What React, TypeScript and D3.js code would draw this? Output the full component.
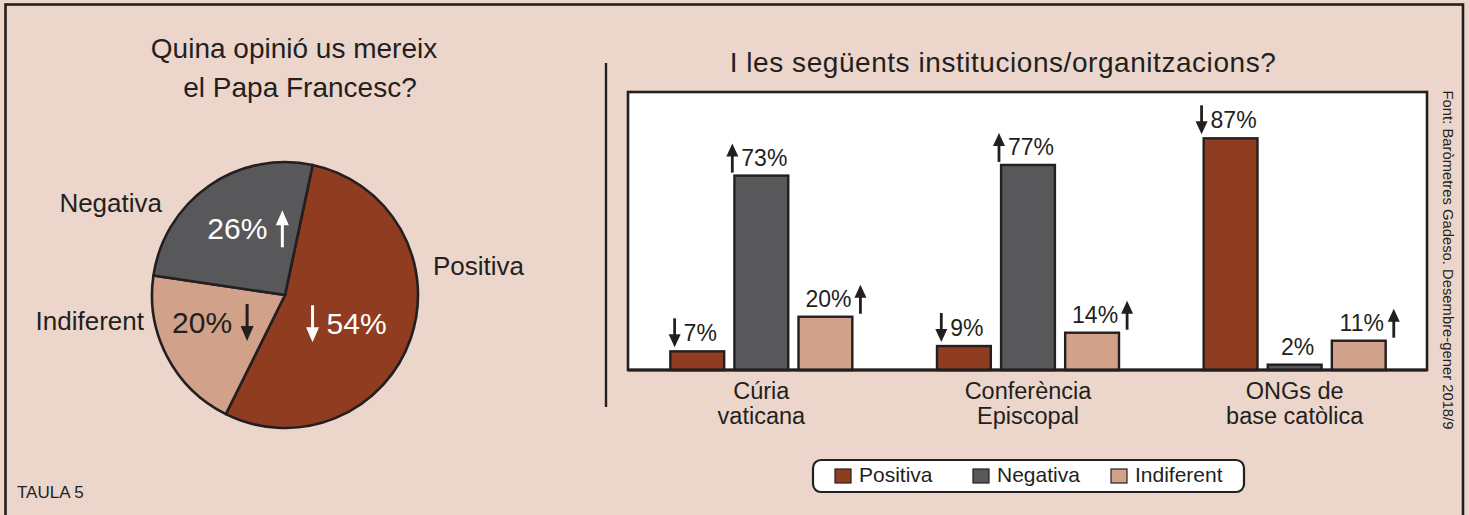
import React from 'react';
import * as d3 from 'd3';

// Pie: "Quina opinió us mereix el Papa Francesc?"
const pieLabels = ['Positiva', 'Indiferent', 'Negativa'];
const pieValues = [54, 20, 26];
const pieTrends: (string | null)[] = ['down', 'down', 'up'];

// Bars: "I les següents institucions/organitzacions?"
const categories = ['Cúria vaticana', 'Conferència Episcopal', 'ONGs de base catòlica'];
const categoryLines = [['Cúria', 'vaticana'], ['Conferència', 'Episcopal'], ['ONGs de', 'base catòlica']];
const seriesKeys = ['Positiva', 'Negativa', 'Indiferent'];
const positiva = [7, 9, 87];
const negativa = [73, 77, 2];
const indiferent = [20, 14, 11];
const positivaTrend: (string | null)[] = ['down', 'down', 'down'];
const negativaTrend: (string | null)[] = ['up', 'up', null];
const indiferentTrend: (string | null)[] = ['up', 'up', 'up'];

const BG = '#ecd6cb';
const INK = '#231f20';
const FONT = '"Liberation Sans", Arial, sans-serif';
const colors: Record<string, string> = {
  Positiva: '#8f3c20',
  Negativa: '#58585a',
  Indiferent: '#d1a189',
};

// rough Arial advance widths for the value labels
const charW: Record<string, number> = { '%': 0.889 };
const textWidth = (s: string, size: number) =>
  s.split('').reduce((acc, c) => acc + (charW[c] ?? 0.556), 0) * size;

interface ArrowProps {
  x: number;
  tail: number;
  tip: number;
  color: string;
  head?: number;
  hw?: number;
  sw?: number;
}

const Arrow: React.FC<ArrowProps> = ({ x, tail, tip, color, head = 13, hw = 6, sw = 2.8 }) => {
  const dir = Math.sign(tip - tail);
  const base = tip - dir * head;
  return (
    <g>
      <line x1={x} x2={x} y1={tail} y2={base + dir * 1} stroke={color} strokeWidth={sw} />
      <path d={`M${x},${tip}L${x - hw},${base}L${x + hw},${base}Z`} fill={color} />
    </g>
  );
};

export default function App() {
  const width = 1469;
  const height = 515;

  // ---- pie ----
  const pcx = 285;
  const pcy = 295;
  const r = 133;
  const start = (12 * Math.PI) / 180;
  const pie = d3.pie<number>().sort(null).startAngle(start).endAngle(start + 2 * Math.PI);
  const arcs = pie(pieValues);
  const arc = d3.arc<d3.PieArcDatum<number>>().innerRadius(0).outerRadius(r);
  const labelArc = d3.arc<d3.PieArcDatum<number>>().innerRadius(80).outerRadius(80);
  const nudge: Record<string, [number, number]> = {
    Positiva: [-13, 2],
    Indiferent: [-3, -10],
    Negativa: [7, -1],
  };
  // outer labels: [dx, dy, anchor]
  const outer: Record<string, [number, number, string]> = {
    Positiva: [148, -20, 'start'],
    Indiferent: [-141, 35, 'end'],
    Negativa: [-123, -83, 'end'],
  };

  // ---- bars ----
  const plot = { left: 628, right: 1427, top: 92, bottom: 370 };
  const x0 = d3.scaleBand<string>().domain(categories).range([plot.left, plot.right + 1]);
  const x1 = d3.scaleBand<string>().domain(seriesKeys).range([-91, 91]).paddingInner(0.16);
  const y = d3.scaleLinear().domain([0, 100]).range([plot.bottom, 103.7]);
  const seriesValues: Record<string, number[]> = {
    Positiva: positiva,
    Negativa: negativa,
    Indiferent: indiferent,
  };
  const seriesTrends: Record<string, (string | null)[]> = {
    Positiva: positivaTrend,
    Negativa: negativaTrend,
    Indiferent: indiferentTrend,
  };
  const arrowSide: Record<string, string> = { Positiva: 'left', Negativa: 'left', Indiferent: 'right' };
  const valSize = 23;

  return (
    <svg
      width={width}
      height={height}
      style={{ position: 'absolute', left: 0, top: 0, background: BG }}
      fontFamily={FONT}
    >
      <rect x={0} y={0} width={width} height={height} fill={BG} />
      <rect x={5.5} y={4.5} width={1457.5} height={560} fill="none" stroke={INK} strokeWidth={2.6} />

      {/* left title */}
      <text x={294} y={58} textAnchor="middle" fontSize={28} fill={INK}>Quina opinió us mereix</text>
      <text x={300} y={97} textAnchor="middle" fontSize={28} fill={INK}>el Papa Francesc?</text>

      {/* pie */}
      <g transform={`translate(${pcx},${pcy})`}>
        {arcs.map((a, i) => (
          <path key={i} d={arc(a) || ''} fill={colors[pieLabels[i]]} stroke={INK} strokeWidth={2.6} strokeLinejoin="round" />
        ))}
        {arcs.map((a, i) => {
          const name = pieLabels[i];
          const [cx, cy] = labelArc.centroid(a);
          const gx = cx + nudge[name][0];
          const gy = cy + nudge[name][1];
          const fg = name === 'Indiferent' ? INK : '#ffffff';
          const trend = pieTrends[i];
          const arrowLeft = name === 'Positiva';
          const ax = arrowLeft ? gx - 35 : gx + 36;
          return (
            <g key={'l' + i}>
              <text
                x={arrowLeft ? gx - 21 : gx + 21}
                y={gy + 10.5}
                textAnchor={arrowLeft ? 'start' : 'end'}
                fontSize={30}
                fill={fg}
              >
                {pieValues[i]}%
              </text>
              {trend && (
                <Arrow
                  x={ax}
                  tail={trend === 'up' ? gy + 19 : gy - 18}
                  tip={trend === 'up' ? gy - 18 : gy + 19}
                  color={fg}
                  head={15}
                  hw={6.5}
                  sw={3}
                />
              )}
            </g>
          );
        })}
        {arcs.map((a, i) => {
          const name = pieLabels[i];
          const [dx, dy, anchor] = outer[name];
          return (
            <text key={'o' + i} x={dx} y={dy} textAnchor={anchor as any} fontSize={26} fill={INK}>
              {name}
            </text>
          );
        })}
      </g>

      {/* divider */}
      <line x1={606} x2={606} y1={63} y2={407} stroke={INK} strokeWidth={2.4} />

      {/* right title */}
      <text x={1003} y={72} textAnchor="middle" fontSize={28} letterSpacing={0.55} fill={INK}>
        I les següents institucions/organitzacions?
      </text>

      {/* plot box */}
      <rect
        x={plot.left}
        y={plot.top}
        width={plot.right - plot.left}
        height={plot.bottom - plot.top}
        fill="#ffffff"
        stroke={INK}
        strokeWidth={2.6}
      />

      {categories.map((c, ci) => {
        const center = (x0(c) ?? 0) + x0.bandwidth() / 2;
        return (
          <g key={c}>
            {seriesKeys.map(k => {
              const v = seriesValues[k][ci];
              const bx = center + (x1(k) ?? 0);
              const bw = x1.bandwidth();
              const top = y(v);
              const label = `${v}%`;
              const tc = bx + bw / 2 + 3;
              const tw = textWidth(label, valSize);
              const trend = seriesTrends[k][ci];
              const ax = arrowSide[k] === 'left' ? tc - tw / 2 - 9 : tc + tw / 2 + 9;
              return (
                <g key={k}>
                  <rect x={bx} y={top} width={bw} height={plot.bottom - top} fill={colors[k]} stroke={INK} strokeWidth={2.4} />
                  <text x={tc} y={top - 10} textAnchor="middle" fontSize={valSize} fill={INK}>
                    {label}
                  </text>
                  {trend === 'up' && <Arrow x={ax} tail={top - 3} tip={top - 32} color={INK} />}
                  {trend === 'down' && <Arrow x={ax} tail={top - 33} tip={top - 4} color={INK} />}
                </g>
              );
            })}
            {categoryLines[ci].map((ln, li) => (
              <text key={li} x={center} y={399 + li * 25} textAnchor="middle" fontSize={23.5} fill={INK}>
                {ln}
              </text>
            ))}
          </g>
        );
      })}

      {/* axis line */}
      <line x1={plot.left} x2={plot.right} y1={plot.bottom} y2={plot.bottom} stroke={INK} strokeWidth={3.2} />

      {/* legend */}
      <rect x={813} y={460} width={431} height={32} rx={8} fill="#ffffff" stroke={INK} strokeWidth={2.2} />
      {seriesKeys.map((k, i) => {
        const lx = 835 + i * 138;
        return (
          <g key={k}>
            <rect x={lx} y={469} width={16} height={14} fill={colors[k]} stroke={INK} strokeWidth={1.2} />
            <text x={lx + 24} y={482} fontSize={21} fill={INK}>{k}</text>
          </g>
        );
      })}

      {/* source */}
      <text
        transform={`translate(1443,260) rotate(90)`}
        textAnchor="middle"
        fontSize={14.8}
        fill={INK}
      >
        Font: Baròmetres Gadeso. Desembre-gener 2018/9
      </text>

      <text x={17} y={498} fontSize={17} fill={INK}>TAULA 5</text>
    </svg>
  );
}
